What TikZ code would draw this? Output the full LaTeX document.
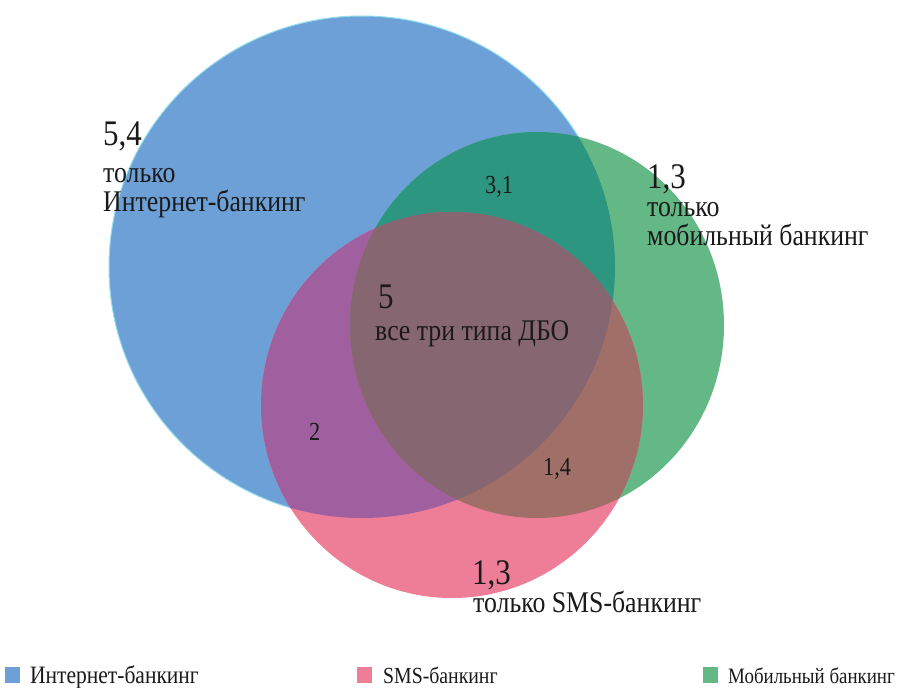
\documentclass[tikz,border=0pt]{standalone}
\usepackage{fontspec}
\setmainfont{Liberation Serif}[FakeStretch=0.86]
\definecolor{cblue}{HTML}{6CA0D6}
\definecolor{cgreen}{HTML}{63B886}
\definecolor{cpink}{HTML}{EE7E98}
\definecolor{cteal}{HTML}{2C9680}
\definecolor{cpurple}{HTML}{A060A0}
\definecolor{cbrown}{HTML}{A07068}
\definecolor{cmauve}{HTML}{866670}
\definecolor{cedge}{HTML}{8FDDEE}
\definecolor{txt}{HTML}{1A1A1A}
\begin{document}
\begin{tikzpicture}[x=1pt,y=-1pt,
  lbl/.style={anchor=base west, inner sep=0pt, text=txt},
  big/.style={lbl, font=\fontsize{36}{40}\selectfont},
  mid/.style={lbl, font=\fontsize{30}{34}\selectfont},
  small/.style={lbl, font=\fontsize{26}{30}\selectfont},
  legbox/.style={minimum width=15pt, minimum height=16pt, inner sep=0pt, anchor=south west}]
\useasboundingbox (0,0) rectangle (908,688);
\fill[white] (0,0) rectangle (908,688);
\def\Bpath{(362,267) ellipse [x radius=253pt, y radius=251pt]}
\def\Gpath{(537,325) ellipse [x radius=187pt, y radius=193pt]}
\def\Ppath{(452,405) ellipse [x radius=191pt, y radius=193pt]}
\filldraw[fill=cblue, draw=cedge, line width=1pt] \Bpath;
\fill[cgreen] \Gpath;
\fill[cpink] \Ppath;
\begin{scope} \clip \Bpath; \fill[cteal] \Gpath; \end{scope}
\begin{scope} \clip \Bpath; \fill[cpurple] \Ppath; \end{scope}
\begin{scope} \clip \Gpath; \fill[cbrown] \Ppath; \end{scope}
\begin{scope} \clip \Bpath; \clip \Gpath; \fill[cmauve] \Ppath; \end{scope}
% labels
\node[big] (n54) at (103,145) {5,4};
\node[mid] (t54a) at (103,182) {только};
\node[mid] (t54b) at (103,211) {Интернет-банкинг};
\node[small] (n31) at (485,193) {3,1};
\node[big] (n13g) at (647,188) {1,3};
\node[mid] (t13a) at (647,216) {только};
\node[mid] (t13b) at (647,245) {мобильный банкинг};
\node[big] (n5) at (378,308) {5};
\node[mid] (t5) at (375,340) {все три типа ДБО};
\node[small] (n2) at (309,440) {2};
\node[small] (n14) at (543,475) {1,4};
\node[big] (n13p) at (472,584) {1,3};
\node[mid] (t13p) at (473,612) {только SMS-банкинг};
% legend
\node[legbox, fill=cblue] (lb1) at (5,683) {};
\node[lbl, font=\fontsize{25}{28}\selectfont] (lt1) at (30,683) {Интернет-банкинг};
\node[legbox, fill=cpink] (lb2) at (357,683) {};
\node[lbl, font=\fontsize{23}{26}\selectfont] (lt2) at (383,683) {SMS-банкинг};
\node[legbox, fill=cgreen] (lb3) at (703,683) {};
\node[lbl, font=\fontsize{22}{26}\selectfont] (lt3) at (728,683) {Мобильный банкинг};
\end{tikzpicture}
\end{document}
